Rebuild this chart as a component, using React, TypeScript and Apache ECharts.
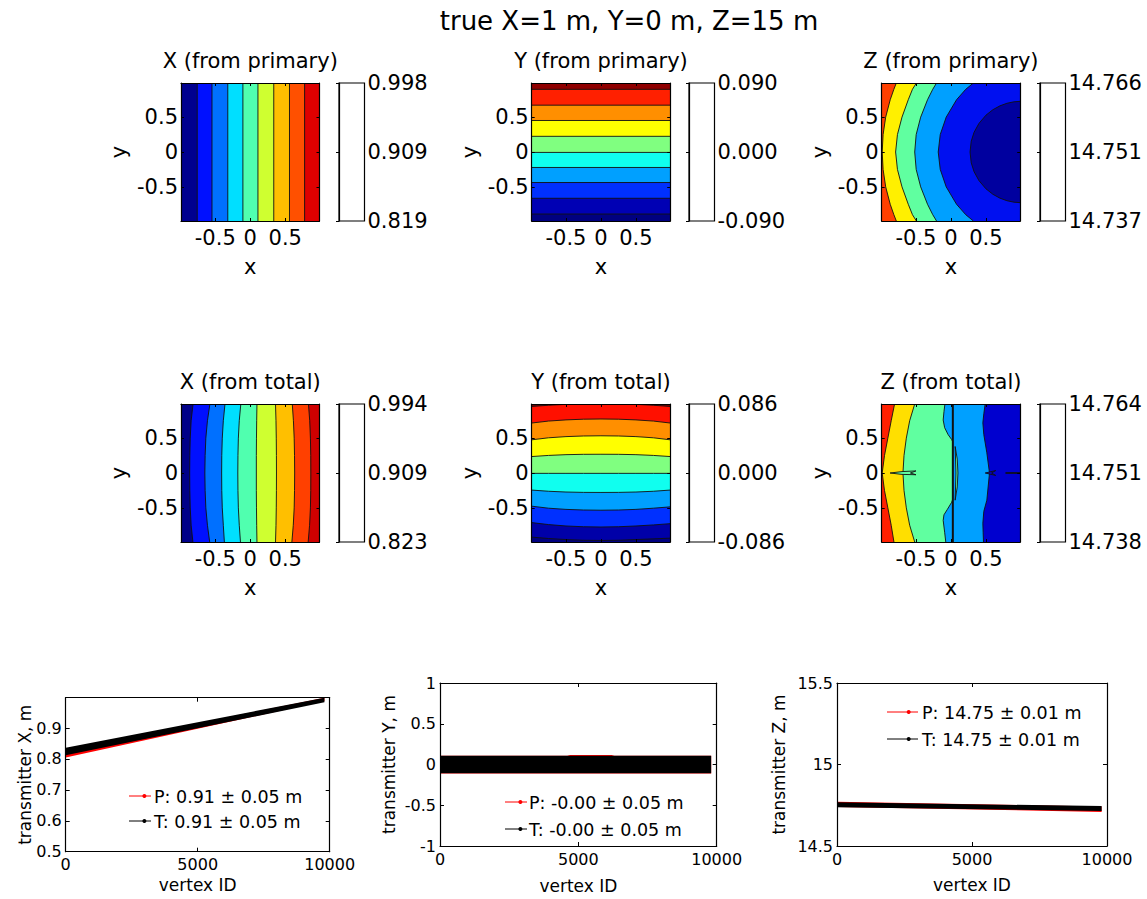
import React, { useEffect, useRef } from 'react';
import * as echarts from 'echarts';

type Pt = [number, number];

const FONT = 'DejaVu Sans';

// ---------- texts ----------
const MAIN_TITLE = 'true X=1 m, Y=0 m, Z=15 m';
const CONTOUR_TITLES = [
  'X (from primary)', 'Y (from primary)', 'Z (from primary)',
  'X (from total)', 'Y (from total)', 'Z (from total)',
];
const COLORBAR_LABELS = [
  ['0.819', '0.909', '0.998'],
  ['-0.090', '0.000', '0.090'],
  ['14.737', '14.751', '14.766'],
  ['0.823', '0.909', '0.994'],
  ['-0.086', '0.000', '0.086'],
  ['14.738', '14.751', '14.764'],
];
const AXIS_MIN = -0.99;
const AXIS_MAX = 0.99;
const CONTOUR_TICKS = [-0.5, 0, 0.5];

// ---------- X from primary (vertical contour lines, x positions) ----------
const XP_EDGES = [-0.758, -0.547, -0.321, -0.105, 0.11, 0.336, 0.561, 0.777];
const XP_COLORS = ['#00008F', '#0010FF', '#0070FF', '#00DFFF', '#50FFAF', '#CFFF30', '#FFBF00', '#FF5000', '#DF0000'];

// ---------- Y from primary (horizontal contour lines, y positions) ----------
const YP_EDGES = [-0.89, -0.664, -0.438, -0.222, -0.006, 0.225, 0.452, 0.672, 0.899];
const YP_COLORS = ['#000080', '#0000B4', '#0030FF', '#00A0FF', '#10FFEF', '#80FF80', '#FFFF00', '#FF8F00', '#FF2000', '#8F0000'];

// ---------- Z from primary ----------
const ZP_YS = [0.99, 0.9, 0.75, 0.5, 0.25, 0, -0.25, -0.5, -0.75, -0.9, -0.99];
const ZP_EDGES = [
  [-0.781, -0.816, -0.868, -0.933, -0.97, -0.983, -0.97, -0.933, -0.868, -0.816, -0.781],
  [-0.494, -0.55, -0.61, -0.7, -0.765, -0.791, -0.765, -0.7, -0.61, -0.55, -0.494],
  [-0.206, -0.26, -0.335, -0.433, -0.497, -0.518, -0.497, -0.433, -0.335, -0.26, -0.206],
  [0.321, 0.212, 0.08, -0.068, -0.153, -0.182, -0.153, -0.068, 0.08, 0.212, 0.321],
];
const ZP_INNER: Pt[] = [
  [0.99, 0.727], [0.9, 0.72], [0.8, 0.699], [0.7, 0.662], [0.6, 0.607], [0.5, 0.528],
  [0.4, 0.41], [0.33, 0.282], [0.29, 0.156], [0.273, 0], [0.29, -0.156], [0.33, -0.282],
  [0.4, -0.41], [0.5, -0.528], [0.6, -0.607], [0.7, -0.662], [0.8, -0.699], [0.9, -0.72], [0.99, -0.727],
];
const ZP_COLORS = ['#FF4000', '#FFF000', '#60FFA0', '#00A0FF', '#0010F0', '#00009F'];

// ---------- X from total ----------
const XT_YS = [0.99, 0.75, 0.5, 0.25, 0, -0.25, -0.5, -0.75, -0.99];
const XT_EDGES = [
  [-0.818, -0.845, -0.858, -0.864, -0.866, -0.864, -0.858, -0.845, -0.82],
  [-0.577, -0.612, -0.635, -0.645, -0.649, -0.645, -0.635, -0.612, -0.58],
  [-0.361, -0.385, -0.4, -0.407, -0.409, -0.407, -0.4, -0.385, -0.37],
  [-0.135, -0.157, -0.17, -0.176, -0.178, -0.176, -0.17, -0.157, -0.14],
  [0.096, 0.092, 0.089, 0.087, 0.087, 0.087, 0.089, 0.092, 0.096],
  [0.361, 0.368, 0.372, 0.374, 0.375, 0.374, 0.372, 0.368, 0.361],
  [0.601, 0.617, 0.628, 0.633, 0.635, 0.633, 0.628, 0.615, 0.595],
  [0.832, 0.85, 0.86, 0.865, 0.866, 0.865, 0.86, 0.848, 0.828],
];
const XT_COLORS = ['#000088', '#0010FF', '#0070FF', '#00DFFF', '#50FFAF', '#CFFF30', '#FFBF00', '#FF4000', '#CF0000'];

// ---------- Y from total ----------
const YT_XS = [-0.99, -0.75, -0.5, -0.25, 0, 0.25, 0.5, 0.75, 0.99];
const YT_EDGES = [
  [-0.92, -0.94, -0.955, -0.965, -0.968, -0.965, -0.955, -0.945, -0.935],
  [-0.712, -0.74, -0.76, -0.771, -0.775, -0.771, -0.76, -0.745, -0.727],
  [-0.476, -0.505, -0.522, -0.531, -0.534, -0.531, -0.522, -0.505, -0.486],
  [-0.245, -0.262, -0.273, -0.278, -0.279, -0.278, -0.273, -0.262, -0.245],
  [-0.005, -0.005, -0.005, -0.005, -0.005, -0.005, -0.005, -0.005, -0.005],
  [0.236, 0.252, 0.263, 0.268, 0.269, 0.268, 0.263, 0.252, 0.236],
  [0.476, 0.505, 0.522, 0.531, 0.534, 0.531, 0.522, 0.505, 0.476],
  [0.717, 0.745, 0.762, 0.772, 0.775, 0.772, 0.762, 0.745, 0.717],
  [0.955, 0.972, 0.985, 0.993, 0.995, 0.993, 0.985, 0.972, 0.955],
];
const YT_COLORS = ['#000080', '#0000A8', '#0030FF', '#00A0FF', '#10FFEF', '#80FF80', '#FFFF00', '#FF8F00', '#FF1000', '#800000'];

// ---------- Z from total ----------
const ZT_YS = [0.99, 0.75, 0.5, 0.25, 0, -0.25, -0.5, -0.75, -0.99];
const ZT_EDGE1 = [-0.806, -0.854, -0.902, -0.95, -0.983, -0.95, -0.902, -0.854, -0.815];
const ZT_EDGE2 = [-0.518, -0.59, -0.638, -0.671, -0.686, -0.671, -0.638, -0.59, -0.518];
const ZT_EDGE3: Pt[] = [
  [-0.086, 0.99], [-0.1, 0.88], [-0.111, 0.76], [-0.09, 0.65], [-0.04, 0.55], [0.01, 0.48], [0.025, 0.45],
  [0.025, -0.38], [0.01, -0.42], [-0.05, -0.52], [-0.1, -0.6], [-0.111, -0.68], [-0.09, -0.85], [-0.074, -0.99],
];
const ZT_EDGE4: Pt[] = [
  [0.489, 0.99], [0.47, 0.85], [0.456, 0.72], [0.47, 0.55], [0.513, 0.29], [0.551, 0],
  [0.513, -0.39], [0.47, -0.55], [0.456, -0.72], [0.46, -0.85], [0.465, -0.99],
];
const ZT_COLORS = ['#FF2000', '#FFDF00', '#60FFA0', '#00A0FF', '#0000CF'];
const ZT_VLINE: Pt[] = [[0.027, 0.99], [0.027, -0.99]];
const ZT_SPIKE_L: Pt[] = [[-0.87, 0], [-0.7, 0.02], [-0.5, 0.03], [-0.58, 0], [-0.5, -0.025], [-0.7, -0.02], [-0.87, 0]];
const ZT_LENS: Pt[] = [[0.06, 0.38], [0.09, 0.2], [0.1, 0], [0.09, -0.2], [0.06, -0.39], [0.072, 0], [0.06, 0.38]];
const ZT_SPIKE_R: Pt[] = [[0.49, 0], [0.64, 0.035], [0.58, 0], [0.64, -0.035], [0.49, 0]];
const ZT_TAIL_A: Pt[] = [[0.78, 0.006], [0.99, 0.006]];
const ZT_TAIL_B: Pt[] = [[0.78, -0.006], [0.99, -0.006]];

// ---------- bottom line plots ----------
const VERTEX_TICKS = [0, 5000, 10000];
const VERTEX_RANGE = [0, 10000];
const BOTTOM_Y_TICKS = [[0.5, 0.6, 0.7, 0.8, 0.9], [-1, -0.5, 0, 0.5, 1], [14.5, 15, 15.5]];
const BOTTOM_Y_RANGES = [[0.5, 0.998], [-1, 1], [14.5, 15.5]];
const BOTTOM_Y_NAMES = ['transmitter X, m', 'transmitter Y, m', 'transmitter Z, m'];
const BOTTOM_X_NAME = 'vertex ID';
const LEGEND_P = ['P: 0.91 \u00b1 0.05 m', 'P: -0.00 \u00b1 0.05 m', 'P: 14.75 \u00b1 0.01 m'];
const LEGEND_T = ['T: 0.91 \u00b1 0.05 m', 'T: -0.00 \u00b1 0.05 m', 'T: 14.75 \u00b1 0.01 m'];

// band envelopes (vertex id, low, high)
const PX_IDS = [0, 9800];
const PX_LOW = [0.805, 0.987];
const PX_HIGH = [0.828, 1.003];
const TX_IDS = [0, 9800];
const TX_LOW = [0.812, 0.983];
const TX_HIGH = [0.836, 0.998];

const PY_IDS = [0, 4600, 4700, 6200, 6300, 9800];
const PY_LOW = [-0.11, -0.11, -0.11, -0.11, -0.11, -0.11];
const PY_HIGH = [0.108, 0.108, 0.116, 0.116, 0.108, 0.108];
const TY_IDS = [0, 9800];
const TY_LOW = [-0.108, -0.108];
const TY_HIGH = [0.107, 0.107];

const PZ_IDS = [0, 9800];
const PZ_LOW = [14.74, 14.709];
const PZ_HIGH = [14.771, 14.742];
const TZ_IDS = [0, 9800];
const TZ_LOW = [14.738, 14.715];
const TZ_HIGH = [14.768, 14.745];

const BANDS = [
  { p: [PX_IDS, PX_LOW, PX_HIGH], t: [TX_IDS, TX_LOW, TX_HIGH] },
  { p: [PY_IDS, PY_LOW, PY_HIGH], t: [TY_IDS, TY_LOW, TY_HIGH] },
  { p: [PZ_IDS, PZ_LOW, PZ_HIGH], t: [TZ_IDS, TZ_LOW, TZ_HIGH] },
];

// ---------- layout ----------
const C_LEFTS = [181, 531.7, 881.7];
const C_TOPS = [83, 404];
const C_W = 138.5;
const C_H = 138;
const CB_LEFTS = [339, 689, 1040];
const CB_W = 25.5;
const TITLE_Y = [61, 382];
const XNAME_Y = [267, 588];
const L_GRIDS = [
  { left: 65.7, top: 697.7, width: 264, height: 154 },
  { left: 440, top: 683, width: 276.7, height: 163 },
  { left: 837, top: 683, width: 270, height: 163 },
];
const L_YNAME_X = [25, 389, 779];
const L_XNAME_Y = [885, 886, 885];
const LEGEND_POS = [
  { x1: 129, x2: 151, yP: 796, yT: 821, tx: 154 },
  { x1: 505, x2: 527, yP: 802, yT: 829, tx: 529 },
  { x1: 887, x2: 918, yP: 712, yT: 739, tx: 922 },
];

const toVert = (xs: number[], ys: number[]): Pt[] => xs.map((x, i) => [x, ys[i]] as Pt);
const toHorz = (ys: number[], xs: number[]): Pt[] => ys.map((y, i) => [xs[i], y] as Pt);

interface Extra { pts: Pt[]; fill?: string; width?: number }
interface ContourDef { colors: string[]; dir: 'right' | 'up'; bounds: Pt[][]; extras: Extra[] }

const CONTOURS: ContourDef[] = [
  { colors: XP_COLORS, dir: 'right', bounds: XP_EDGES.map((x) => [[x, AXIS_MAX], [x, AXIS_MIN]] as Pt[]), extras: [] },
  { colors: YP_COLORS, dir: 'up', bounds: YP_EDGES.map((y) => [[AXIS_MIN, y], [AXIS_MAX, y]] as Pt[]), extras: [] },
  { colors: ZP_COLORS, dir: 'right', bounds: [...ZP_EDGES.map((r) => toVert(r, ZP_YS)), ZP_INNER], extras: [] },
  { colors: XT_COLORS, dir: 'right', bounds: XT_EDGES.map((r) => toVert(r, XT_YS)), extras: [] },
  { colors: YT_COLORS, dir: 'up', bounds: YT_EDGES.map((r) => toHorz(r, YT_XS)), extras: [] },
  {
    colors: ZT_COLORS,
    dir: 'right',
    bounds: [toVert(ZT_EDGE1, ZT_YS), toVert(ZT_EDGE2, ZT_YS), ZT_EDGE3, ZT_EDGE4],
    extras: [
      { pts: ZT_VLINE, width: 2 },
      { pts: ZT_SPIKE_L, fill: '#60FFA0' },
      { pts: ZT_LENS, fill: '#60FFA0' },
      { pts: ZT_SPIKE_R, fill: '#0000CF' },
      { pts: ZT_TAIL_A },
      { pts: ZT_TAIL_B },
    ],
  },
];

const clampC = (p: Pt): Pt => [
  Math.min(Math.max(p[0], AXIS_MIN), AXIS_MAX),
  Math.min(Math.max(p[1], AXIS_MIN), AXIS_MAX),
];

function valueAxis(gridIndex: number, min: number, max: number, ticks: number[], position: string,
  showLabel: boolean, fontSize: number, margin: number, tickLen: number) {
  return {
    type: 'value', gridIndex, min, max, position, z: 10,
    axisLine: { show: true, onZero: false, lineStyle: { color: '#000', width: 1.2 } },
    axisTick: { show: true, inside: true, length: tickLen, customValues: ticks, lineStyle: { color: '#000', width: 1 } },
    axisLabel: {
      show: showLabel, customValues: ticks, fontSize, margin, color: '#000', fontFamily: FONT,
      formatter: (v: number) => String(v),
    },
    splitLine: { show: false },
  };
}

function textEl(text: string, x: number, y: number, size: number, rotate = false) {
  return {
    type: 'text', x, y, rotation: rotate ? Math.PI / 2 : 0, silent: true,
    style: {
      text, fill: '#000', fontSize: size, fontFamily: FONT,
      align: 'center', verticalAlign: 'middle', textAlign: 'center', textVerticalAlign: 'middle',
    },
  };
}

function buildOption() {
  const grid: any[] = [];
  const xAxis: any[] = [];
  const yAxis: any[] = [];
  const series: any[] = [];
  const graphic: any[] = [];

  graphic.push(textEl(MAIN_TITLE, 629, 21, 26));

  CONTOURS.forEach((def, k) => {
    const row = k < 3 ? 0 : 1;
    const col = k % 3;
    const left = C_LEFTS[col];
    const top = C_TOPS[row];
    // contour grid
    const gi = grid.length;
    grid.push({ left, top, width: C_W, height: C_H, containLabel: false });
    const xi = xAxis.length;
    xAxis.push(valueAxis(gi, AXIS_MIN, AXIS_MAX, CONTOUR_TICKS, 'bottom', true, 21, 6, 3));
    xAxis.push(valueAxis(gi, AXIS_MIN, AXIS_MAX, CONTOUR_TICKS, 'top', false, 21, 6, 3));
    const yi = yAxis.length;
    yAxis.push(valueAxis(gi, AXIS_MIN, AXIS_MAX, CONTOUR_TICKS, 'left', true, 21, 3, 3));
    yAxis.push(valueAxis(gi, AXIS_MIN, AXIS_MAX, CONTOUR_TICKS, 'right', false, 21, 3, 3));

    const nb = def.bounds.length;
    const total = 1 + nb + def.extras.length;
    series.push({
      type: 'custom', xAxisIndex: xi, yAxisIndex: yi, clip: true, silent: true, z: 2,
      data: Array.from({ length: total }, (_, i) => [0, 0, i]),
      renderItem: (params: any, api: any) => {
        const i = params.dataIndex;
        const c = (p: Pt) => api.coord(clampC(p));
        if (i === 0) {
          const corners: Pt[] = [[AXIS_MIN, AXIS_MAX], [AXIS_MAX, AXIS_MAX], [AXIS_MAX, AXIS_MIN], [AXIS_MIN, AXIS_MIN]];
          return { type: 'polygon', shape: { points: corners.map(c) }, style: { fill: def.colors[0] } };
        }
        if (i <= nb) {
          const pts = def.bounds[i - 1];
          const close: Pt[] = def.dir === 'right'
            ? [[AXIS_MAX, AXIS_MIN], [AXIS_MAX, AXIS_MAX]]
            : [[AXIS_MAX, AXIS_MAX], [AXIS_MIN, AXIS_MAX]];
          return {
            type: 'group',
            children: [
              { type: 'polygon', shape: { points: [...pts, ...close].map(c) }, style: { fill: def.colors[i] } },
              { type: 'polyline', shape: { points: pts.map(c) }, style: { stroke: '#111', lineWidth: 0.9, fill: 'none' } },
            ],
          };
        }
        const ex = def.extras[i - 1 - nb];
        if (ex.fill) {
          return { type: 'polygon', shape: { points: ex.pts.map(c) }, style: { fill: ex.fill, stroke: '#111', lineWidth: 0.9 } };
        }
        return { type: 'polyline', shape: { points: ex.pts.map(c) }, style: { stroke: '#111', lineWidth: ex.width || 0.9, fill: 'none' } };
      },
    });

    // colorbar
    const cbi = grid.length;
    grid.push({ left: CB_LEFTS[col], top, width: CB_W, height: C_H, show: true, backgroundColor: '#fff', borderColor: '#000', borderWidth: 1.2 });
    xAxis.push({ type: 'value', gridIndex: cbi, show: false, min: 0, max: 1 });
    yAxis.push({
      type: 'category', gridIndex: cbi, data: COLORBAR_LABELS[k], boundaryGap: false, position: 'right', z: 10,
      axisLine: { show: true, lineStyle: { color: '#000', width: 1.2 } },
      axisTick: { show: true, inside: true, length: 3, lineStyle: { color: '#000' } },
      axisLabel: { interval: 0, margin: 3, fontSize: 21, color: '#000', fontFamily: FONT },
      splitLine: { show: false },
    });

    // texts
    const cx = left + C_W / 2;
    graphic.push(textEl(CONTOUR_TITLES[k], cx, TITLE_Y[row], 21));
    graphic.push(textEl('x', cx, XNAME_Y[row], 21));
    graphic.push(textEl('y', left - 62, top + C_H / 2, 21, true));
  });

  L_GRIDS.forEach((g, k) => {
    const gi = grid.length;
    grid.push({ ...g, containLabel: false });
    const xi = xAxis.length;
    xAxis.push(valueAxis(gi, VERTEX_RANGE[0], VERTEX_RANGE[1], VERTEX_TICKS, 'bottom', true, 16, 5, 4));
    xAxis.push(valueAxis(gi, VERTEX_RANGE[0], VERTEX_RANGE[1], VERTEX_TICKS, 'top', false, 16, 5, 4));
    const yi = yAxis.length;
    const [ymin, ymax] = BOTTOM_Y_RANGES[k];
    yAxis.push(valueAxis(gi, ymin, ymax, BOTTOM_Y_TICKS[k], 'left', true, 16, 4, 4));
    yAxis.push(valueAxis(gi, ymin, ymax, BOTTOM_Y_TICKS[k], 'right', false, 16, 4, 4));

    const band = (env: number[][], color: string) => ({
      type: 'custom', xAxisIndex: xi, yAxisIndex: yi, clip: true, silent: true,
      data: [[env[0][0], env[1][0]]],
      renderItem: (_p: any, api: any) => {
        const [ids, lo, hi] = env;
        const cl = (v: number) => Math.min(Math.max(v, ymin), ymax);
        const pts = [
          ...ids.map((x, i) => [x, cl(lo[i])]),
          ...ids.map((x, i) => [x, cl(hi[i])]).reverse(),
        ].map((p) => api.coord(p));
        return { type: 'polygon', shape: { points: pts }, style: { fill: color } };
      },
    });
    series.push(band(BANDS[k].p, '#FF0000'));
    series.push(band(BANDS[k].t, '#000000'));

    graphic.push(textEl(BOTTOM_X_NAME, g.left + g.width / 2, L_XNAME_Y[k], 17));
    graphic.push(textEl(BOTTOM_Y_NAMES[k], L_YNAME_X[k], g.top + g.height / 2, 17, true));

    const lp = LEGEND_POS[k];
    const dotX = lp.x1 + 0.7 * (lp.x2 - lp.x1);
    [[lp.yP, '#FF0000', LEGEND_P[k]], [lp.yT, '#000000', LEGEND_T[k]]].forEach(([y, color, label]: any) => {
      graphic.push({ type: 'line', silent: true, shape: { x1: lp.x1, y1: y, x2: lp.x2, y2: y }, style: { stroke: color, lineWidth: 1 } });
      graphic.push({ type: 'circle', silent: true, shape: { cx: dotX, cy: y, r: 2 }, style: { fill: color } });
      graphic.push({
        type: 'text', x: lp.tx, y: y + 1, silent: true,
        style: { text: label, fill: '#000', fontSize: 17.5, fontFamily: FONT, align: 'left', verticalAlign: 'middle', textAlign: 'left', textVerticalAlign: 'middle' },
      });
    });
  });

  return {
    animation: false,
    backgroundColor: '#fff',
    textStyle: { fontFamily: FONT, color: '#000' },
    grid, xAxis, yAxis, series, graphic,
  };
}

export default function App() {
  const ref = useRef<HTMLDivElement>(null);
  useEffect(() => {
    if (!ref.current) return;
    const chart = echarts.init(ref.current, null, { renderer: 'svg' });
    chart.setOption(buildOption() as any);
    return () => chart.dispose();
  }, []);
  return (
    <div
      ref={ref}
      style={{ position: 'fixed', left: 0, top: 0, width: 1147, height: 899, background: '#fff' }}
    />
  );
}
